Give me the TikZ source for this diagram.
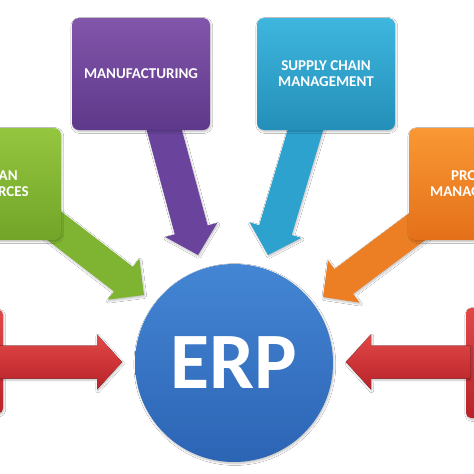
\documentclass[tikz,border=0pt]{standalone}
\usepackage{fontspec}
\setmainfont{Carlito}
\usetikzlibrary{calc,shadows.blur}
\definecolor{purT}{RGB}{130,86,170}
\definecolor{purB}{RGB}{94,56,138}
\definecolor{purA}{RGB}{106,68,156}
\definecolor{teaT}{RGB}{62,182,222}
\definecolor{teaB}{RGB}{36,143,184}
\definecolor{teaA}{RGB}{46,162,206}
\definecolor{greT}{RGB}{148,198,64}
\definecolor{greB}{RGB}{114,164,40}
\definecolor{greA}{RGB}{126,180,50}
\definecolor{oraT}{RGB}{249,152,52}
\definecolor{oraB}{RGB}{228,112,25}
\definecolor{oraA}{RGB}{236,126,36}
\definecolor{redT}{RGB}{226,72,72}
\definecolor{redB}{RGB}{184,34,40}
\definecolor{bluT}{RGB}{68,134,212}
\definecolor{bluB}{RGB}{44,100,180}
\newcommand\fatarrow[6]{%
  \coordinate (fa-B) at ($(#2)!#5!(#1)$);
  \coordinate (fa-s1) at ($(#1)!#3!90:(#2)$);
  \coordinate (fa-s2) at ($(#1)!#3!-90:(#2)$);
  \coordinate (fa-b1) at ($(fa-B)!#3!90:(#2)$);
  \coordinate (fa-b2) at ($(fa-B)!#3!-90:(#2)$);
  \coordinate (fa-h1) at ($(fa-B)!#4!90:(#2)$);
  \coordinate (fa-h2) at ($(fa-B)!#4!-90:(#2)$);
  \fill[#6] (fa-s1) -- (fa-b1) -- (fa-h1) -- (#2) -- (fa-h2) -- (fa-b2) -- (fa-s2) -- cycle;
}
\tikzset{
  sh/.style={blur shadow={shadow blur steps=6, shadow xshift=0.8pt, shadow yshift=-1.5pt, shadow opacity=25}},
  box/.style={rectangle, rounded corners=7pt, minimum width=138pt, minimum height=112pt,
    text=white, align=center, font=\bfseries\fontsize{15}{16}\selectfont, sh},
  sidebox/.style={rectangle, rounded corners=5pt, top color=redT, bottom color=redB, sh},
}
\begin{document}
\begin{tikzpicture}[x=1pt,y=-1pt]
\clip (0,0) rectangle (474,474);
\fill[white] (0,0) rectangle (474,474);
% centre
\node[circle, minimum size=198pt, inner sep=0pt, top color=bluT, bottom color=bluB, sh,
  text=white, font=\bfseries\fontsize{80}{80}\selectfont] (erp) at (234,363) {ERP};
% side red boxes
\node[sidebox, minimum width=24pt, minimum height=104pt] (redL) at (-9,361.5) {};
\node[sidebox, minimum width=24pt, minimum height=110pt] (redR) at (478,363) {};
% start / tip coordinates
\coordinate (manS) at (161,118);
\coordinate (manT) at (198,255);
\coordinate (scmS) at (309,118);
\coordinate (scmT) at (268,255);
\coordinate (hrS)  at (30,207);
\coordinate (hrT)  at (144,295);
\coordinate (pmS)  at (430,217);
\coordinate (pmT)  at (323,297);
\coordinate (redLS) at (0,362);
\coordinate (redLT) at (122,362);
\coordinate (redRS) at (470,362);
\coordinate (redRT) at (346,362);
% connectors
\fatarrow{manS}{manT}{17pt}{27pt}{26pt}{purA, sh}
\fatarrow{scmS}{scmT}{17pt}{27pt}{26pt}{teaA, sh}
\fatarrow{hrS}{hrT}{15.5pt}{26pt}{26pt}{greA, sh}
\fatarrow{pmS}{pmT}{15.5pt}{26.5pt}{26pt}{oraA, sh}
\fatarrow{redLS}{redLT}{16.5pt}{27.5pt}{25pt}{top color=redT, bottom color=redB, sh}
\fatarrow{redRS}{redRT}{16.5pt}{27.5pt}{25pt}{top color=redT, bottom color=redB, sh}
% boxes
\node[box, top color=purT, bottom color=purB] (man) at (141,74) {MANUFACTURING};
\node[box, top color=teaT, bottom color=teaB] (scm) at (326,74) {SUPPLY CHAIN\\MANAGEMENT};
\node[box, top color=greT, bottom color=greB] (hr) at (-8,184) {HUMAN\\RESOURCES};
\node[box, top color=oraT, bottom color=oraB] (pm) at (478,184) {PROJECT\\MANAGEMENT};
\end{tikzpicture}
\end{document}
